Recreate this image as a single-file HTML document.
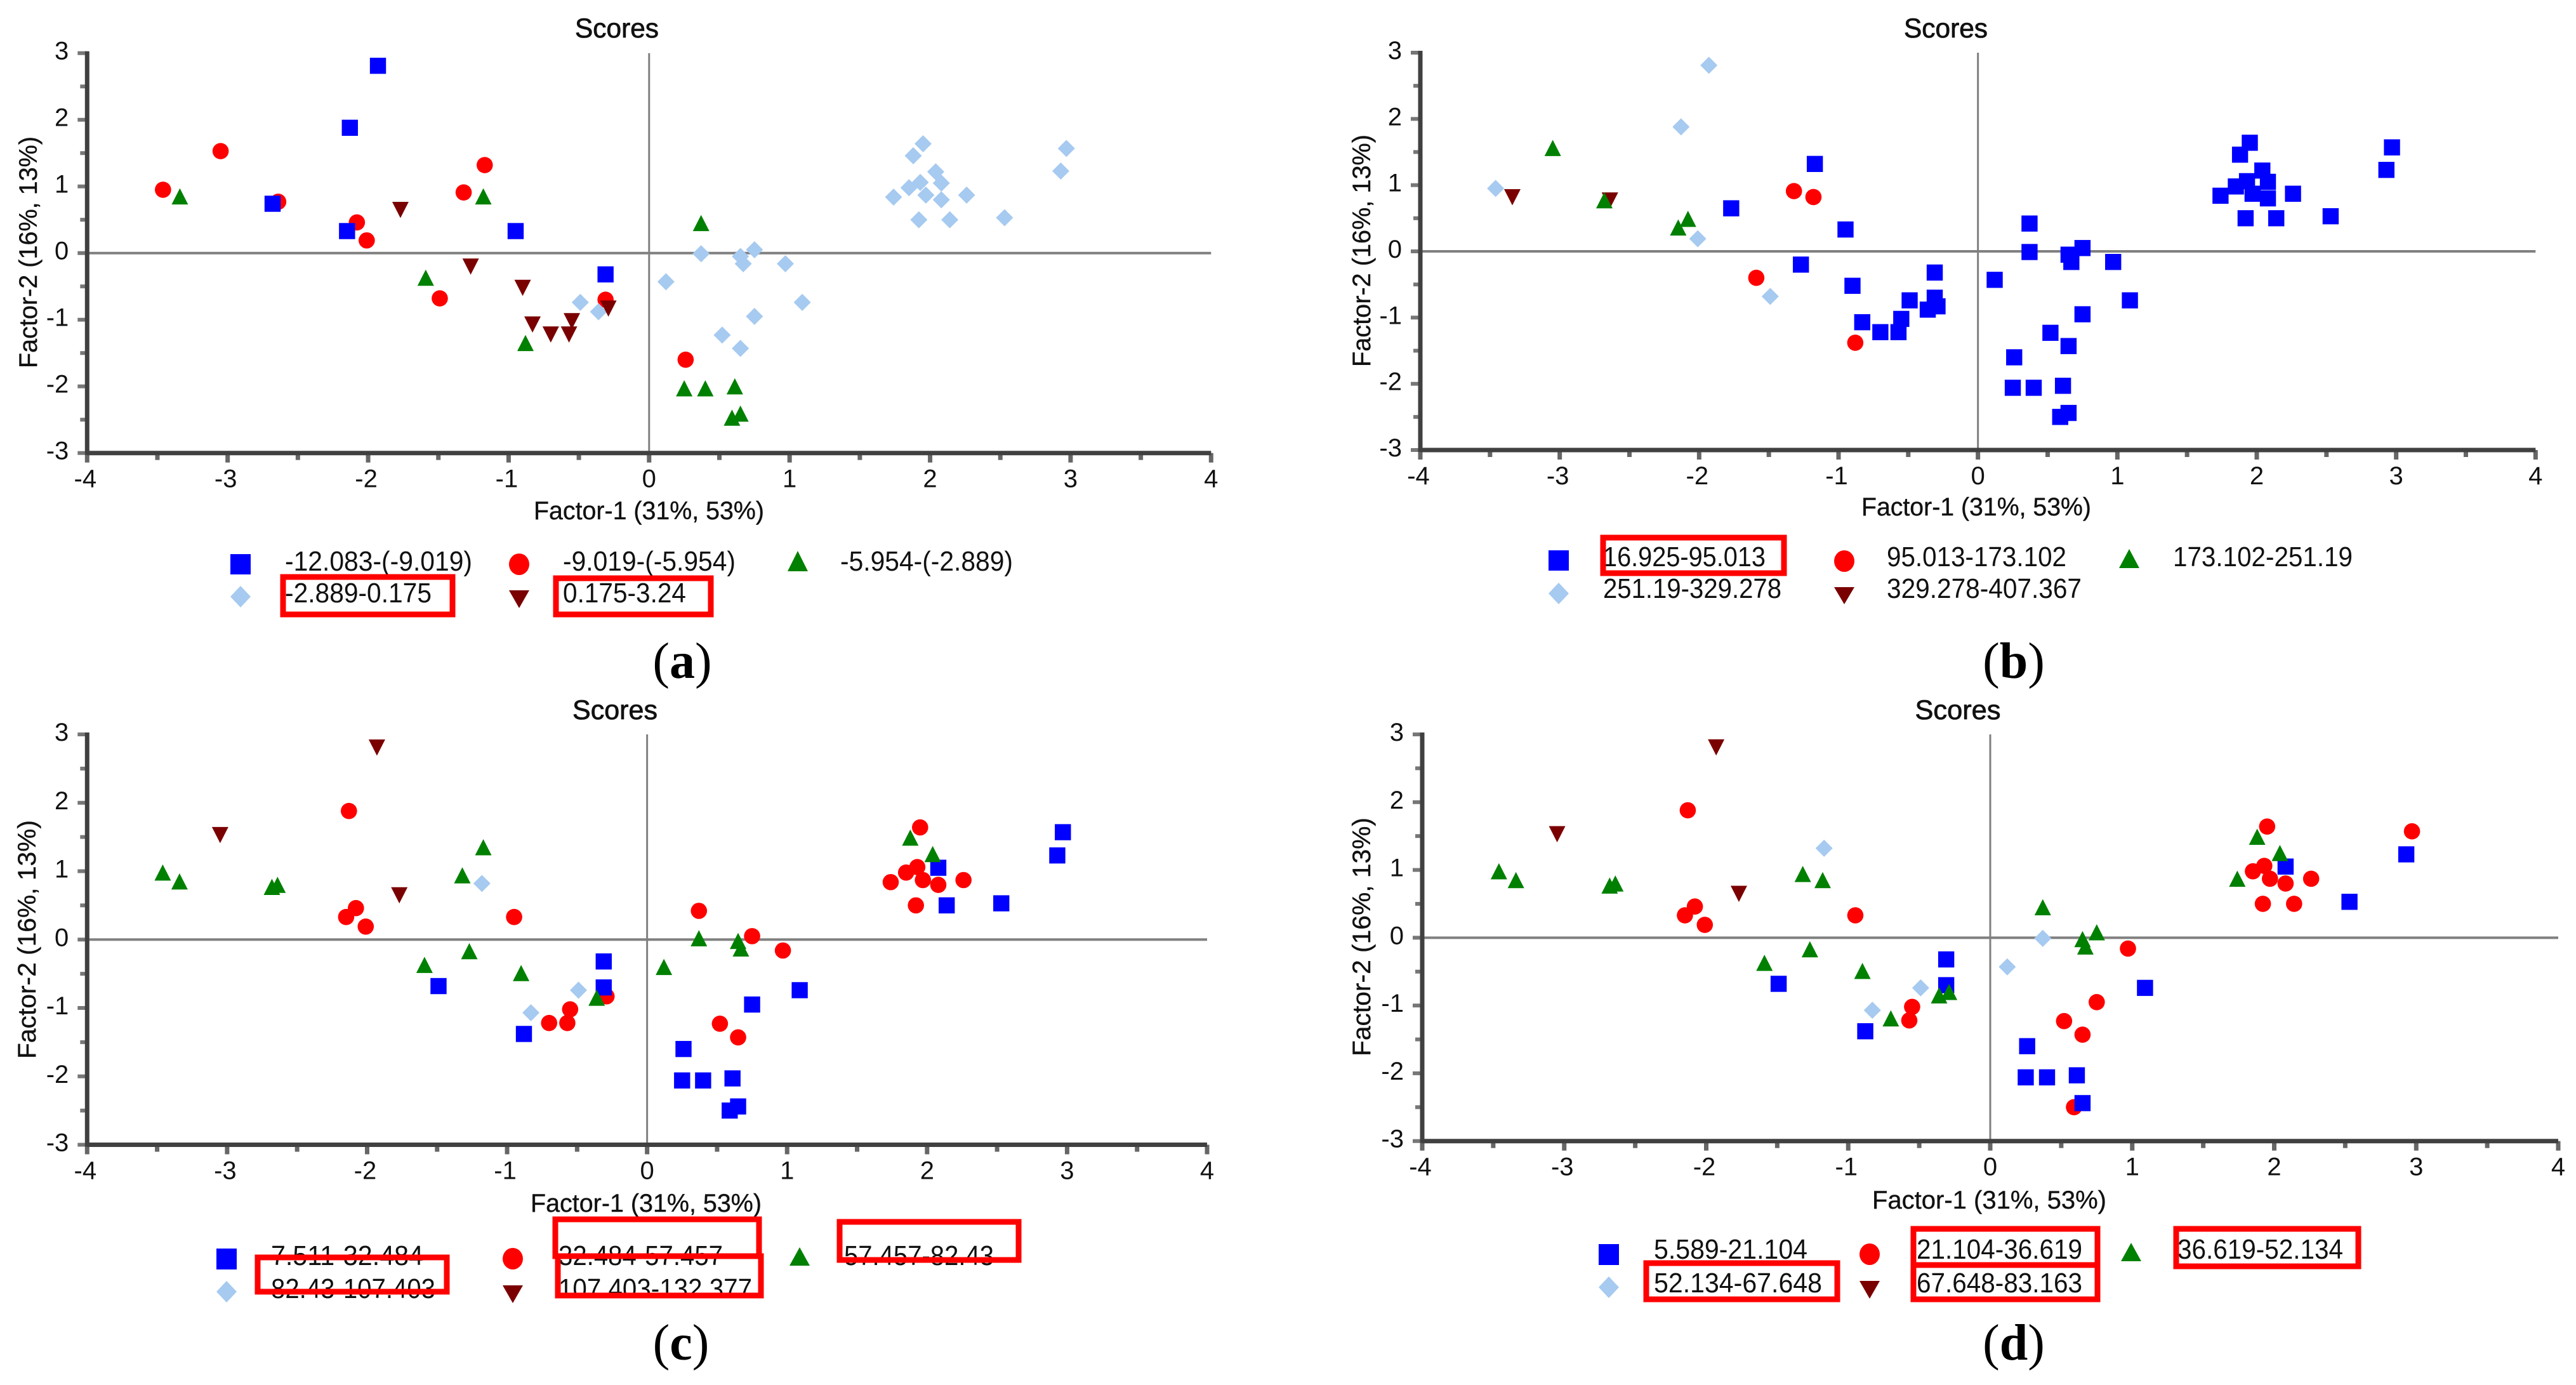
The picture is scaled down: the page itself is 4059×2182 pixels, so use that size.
<!DOCTYPE html>
<html lang="en">
<head>
<meta charset="utf-8">
<title>Scores scatter plots</title>
<style>
html,body{margin:0;padding:0;background:#fff;}
svg{display:block;}
text{font-family:"Liberation Sans",Arial,sans-serif;fill:#111;}
.title{font-size:43px;stroke:#111;stroke-width:.8px;}
.xt,.yt{font-size:40px;stroke:#111;stroke-width:.4px;}
.lg{font-size:44px;}
.tick{font-size:40px;}
.cap{font-family:"Liberation Serif","Times New Roman",serif;font-size:80px;fill:#000;}
.cap .b{font-weight:bold;}
.box{fill:none;stroke:#ff0000;stroke-width:9;}
</style>
</head>
<body>
<svg id="chart" xmlns="http://www.w3.org/2000/svg" width="4059" height="2182" viewBox="0 0 4059 2182">
  <rect x="0" y="0" width="4059" height="2182" fill="#ffffff"/>

  <!-- Panel a -->
  <g id="panel-a">
    <g id="plot-a"></g>
    <text class="title" x="972" y="59" text-anchor="middle" textLength="132" lengthAdjust="spacingAndGlyphs">Scores</text>
    <text class="xt" x="841" y="818" textLength="363" lengthAdjust="spacingAndGlyphs">Factor-1 (31%, 53%)</text>
    <text class="yt" transform="translate(58,580) rotate(-90)" textLength="365" lengthAdjust="spacingAndGlyphs">Factor-2 (16%, 13%)</text>
    <g>
      <rect x="363" y="873" width="32" height="32" fill="#0000ff"/>
      <text class="lg" x="449" y="899" textLength="295" lengthAdjust="spacingAndGlyphs">-12.083-(-9.019)</text>
      <ellipse cx="818" cy="889" rx="16" ry="17" fill="#ff0000"/>
      <text class="lg" x="887" y="899" textLength="272" lengthAdjust="spacingAndGlyphs">-9.019-(-5.954)</text>
      <polygon points="1257,868 1273,900 1241,900" fill="#008000"/>
      <text class="lg" x="1324" y="899" textLength="272" lengthAdjust="spacingAndGlyphs">-5.954-(-2.889)</text>
      <polygon points="379,923 395,940 379,957 363,940" fill="#a6caf0"/>
      <text class="lg" x="449" y="949" textLength="231" lengthAdjust="spacingAndGlyphs">-2.889-0.175</text>
      <polygon points="802,930 834,930 818,958" fill="#7a0000"/>
      <text class="lg" x="887" y="949" textLength="194" lengthAdjust="spacingAndGlyphs">0.175-3.24</text>
      <rect class="box" x="446" y="909" width="267" height="59"/>
      <rect class="box" x="876" y="911" width="244" height="57"/>
    </g>
    <text class="cap" x="1075" y="1068" text-anchor="middle">(<tspan class="b">a</tspan>)</text>
  </g>

  <!-- Panel b -->
  <g id="panel-b">
    <g id="plot-b"></g>
    <text class="title" x="3066" y="59" text-anchor="middle" textLength="132" lengthAdjust="spacingAndGlyphs">Scores</text>
    <text class="xt" x="2933" y="812" textLength="362" lengthAdjust="spacingAndGlyphs">Factor-1 (31%, 53%)</text>
    <text class="yt" transform="translate(2159,578) rotate(-90)" textLength="366" lengthAdjust="spacingAndGlyphs">Factor-2 (16%, 13%)</text>
    <g>
      <rect x="2440" y="867" width="32" height="32" fill="#0000ff"/>
      <text class="lg" x="2526" y="892" textLength="256" lengthAdjust="spacingAndGlyphs">16.925-95.013</text>
      <ellipse cx="2906" cy="884" rx="16" ry="17" fill="#ff0000"/>
      <text class="lg" x="2973" y="892" textLength="283" lengthAdjust="spacingAndGlyphs">95.013-173.102</text>
      <polygon points="3355,865 3371,895 3339,895" fill="#008000"/>
      <text class="lg" x="3424" y="892" textLength="283" lengthAdjust="spacingAndGlyphs">173.102-251.19</text>
      <polygon points="2456,918 2472,935 2456,952 2440,935" fill="#a6caf0"/>
      <text class="lg" x="2526" y="942" textLength="281" lengthAdjust="spacingAndGlyphs">251.19-329.278</text>
      <polygon points="2890,925 2922,925 2906,952" fill="#7a0000"/>
      <text class="lg" x="2973" y="942" textLength="307" lengthAdjust="spacingAndGlyphs">329.278-407.367</text>
      <rect class="box" x="2526" y="847" width="285" height="56"/>
    </g>
    <text class="cap" x="3173" y="1068" text-anchor="middle">(<tspan class="b">b</tspan>)</text>
  </g>

  <!-- Panel c -->
  <g id="panel-c">
    <g id="plot-c"></g>
    <text class="title" x="969" y="1133" text-anchor="middle" textLength="134" lengthAdjust="spacingAndGlyphs">Scores</text>
    <text class="xt" x="836" y="1909" textLength="364" lengthAdjust="spacingAndGlyphs">Factor-1 (31%, 53%)</text>
    <text class="yt" transform="translate(56,1668) rotate(-90)" textLength="376" lengthAdjust="spacingAndGlyphs">Factor-2 (16%, 13%)</text>
    <g>
      <rect x="341" y="1967" width="32" height="33" fill="#0000ff"/>
      <text class="lg" x="427" y="1993" textLength="240" lengthAdjust="spacingAndGlyphs">7.511-32.484</text>
      <ellipse cx="808" cy="1983" rx="16" ry="17" fill="#ff0000"/>
      <text class="lg" x="880" y="1993" textLength="259" lengthAdjust="spacingAndGlyphs">32.484-57.457</text>
      <polygon points="1260,1965 1276,1994 1244,1994" fill="#008000"/>
      <text class="lg" x="1330" y="1993" textLength="236" lengthAdjust="spacingAndGlyphs">57.457-82.43</text>
      <polygon points="357,2018 373,2035 357,2052 341,2035" fill="#a6caf0"/>
      <text class="lg" x="427" y="2045" textLength="259" lengthAdjust="spacingAndGlyphs">82.43-107.403</text>
      <polygon points="792,2025 824,2025 808,2053" fill="#7a0000"/>
      <text class="lg" x="880" y="2045" textLength="305" lengthAdjust="spacingAndGlyphs">107.403-132.377</text>
      <rect class="box" x="406" y="1981" width="298" height="54"/>
      <rect class="box" x="875" y="1921" width="321" height="58"/>
      <rect class="box" x="879" y="1979" width="320" height="62"/>
      <rect class="box" x="1323" y="1925" width="282" height="60"/>
    </g>
    <text class="cap" x="1073" y="2142" text-anchor="middle">(<tspan class="b">c</tspan>)</text>
  </g>

  <!-- Panel d -->
  <g id="panel-d">
    <g id="plot-d"></g>
    <text class="title" x="3085" y="1133" text-anchor="middle" textLength="135" lengthAdjust="spacingAndGlyphs">Scores</text>
    <text class="xt" x="2950" y="1904" textLength="369" lengthAdjust="spacingAndGlyphs">Factor-1 (31%, 53%)</text>
    <text class="yt" transform="translate(2159,1664) rotate(-90)" textLength="376" lengthAdjust="spacingAndGlyphs">Factor-2 (16%, 13%)</text>
    <g>
      <rect x="2519" y="1960" width="32" height="33" fill="#0000ff"/>
      <text class="lg" x="2606" y="1983" textLength="242" lengthAdjust="spacingAndGlyphs">5.589-21.104</text>
      <ellipse cx="2946" cy="1976" rx="16" ry="17" fill="#ff0000"/>
      <text class="lg" x="3020" y="1983" textLength="261" lengthAdjust="spacingAndGlyphs">21.104-36.619</text>
      <polygon points="3358,1958 3374,1987 3342,1987" fill="#008000"/>
      <text class="lg" x="3431" y="1983" textLength="261" lengthAdjust="spacingAndGlyphs">36.619-52.134</text>
      <polygon points="2535,2011 2551,2028 2535,2045 2519,2028" fill="#a6caf0"/>
      <text class="lg" x="2606" y="2036" textLength="265" lengthAdjust="spacingAndGlyphs">52.134-67.648</text>
      <polygon points="2930,2018 2962,2018 2946,2046" fill="#7a0000"/>
      <text class="lg" x="3020" y="2036" textLength="261" lengthAdjust="spacingAndGlyphs">67.648-83.163</text>
      <rect class="box" x="2594" y="1990" width="301" height="57"/>
      <rect class="box" x="3015" y="1936" width="290" height="57"/>
      <rect class="box" x="3015" y="1993" width="290" height="54"/>
      <rect class="box" x="3429" y="1936" width="287" height="59"/>
    </g>
    <text class="cap" x="3173" y="2142" text-anchor="middle">(<tspan class="b">d</tspan>)</text>
  </g>
</svg>

<script>
// Shared factor scores for the 61 samples (same in every panel)
const factor1 = [-1.93,-2.13,-2.68,-2.15,-0.95,-0.31,-3.46,-3.05,-2.64,-2.08,
  -2.01,-1.32,-1.17,-1.49,-0.31,0.26,-3.34,-1.18,-1.59,-0.88,
  0.37,0.25,0.40,0.61,0.65,0.59,1.95,1.88,2.97,2.93,
  2.04,1.93,2.08,1.85,1.74,1.97,2.08,2.26,1.92,2.14,
  2.53,0.37,0.65,0.67,0.75,0.97,0.12,1.09,0.75,0.52,
  0.65,-0.49,-0.36,-1.77,-1.27,-0.90,-0.83,-0.70,-0.57,-0.55,-0.29];
const factor2 = [2.81,1.88,0.74,0.33,0.33,-0.32,0.95,1.53,0.77,0.46,
  0.19,0.91,1.32,-0.68,-0.70,-1.60,0.82,0.82,-0.40,-1.38,
  0.42,-2.06,-2.06,-2.03,-2.44,-2.50,1.64,1.46,1.57,1.23,
  1.22,1.06,1.05,0.98,0.84,0.87,0.80,0.87,0.50,0.50,
  0.53,-0.01,-0.05,-0.16,0.05,-0.16,-0.43,-0.74,-0.95,-1.23,
  -1.43,-0.74,-0.88,0.65,-0.20,-0.52,-1.07,-1.22,-1.22,-1.02,-0.83];

// Class of every sample per panel: 0 square, 1 circle, 2 triangle, 3 diamond, 4 inverted triangle
const classesA = [0,0,0,0,0,0,1,1,1,1, 1,1,1,1,1,1,2,2,2,2, 2,2,2,2,2,2,3,3,3,3,
  3,3,3,3,3,3,3,3,3,3, 3,3,3,3,3,3,3,3,3,3, 3,3,3,4,4,4,4,4,4,4,4];
const classesB = [3,3,2,2,0,0,3,2,4,2, 3,1,0,3,0,0,4,1,1,1, 0,0,0,0,0,0,0,0,0,0,
  0,0,0,0,0,0,0,0,0,0, 0,0,0,0,0,0,0,0,0,0, 0,0,0,0,0,0,0,0,0,0,0];
const classesC = [4,1,2,1,1,0,2,4,2,1, 1,2,2,0,0,0,2,3,2,0, 1,0,0,0,0,0,1,2,0,0,
  2,1,0,1,1,1,1,1,1,0, 0,2,2,2,1,1,2,0,0,1, 1,3,2,4,2,2,3,1,1,1,1];
const classesD = [4,1,2,1,1,0,2,4,2,1, 1,2,3,0,0,0,2,2,2,0, 2,0,0,0,0,1,1,2,1,0,
  2,1,0,1,2,1,1,1,1,1, 0,3,2,2,2,1,3,0,1,1, 1,3,2,4,2,2,3,2,1,1,2];

// Axis ticks
const xMajorTicks = [-4,-3,-2,-1,0,1,2,3,4];
const yMajorTicks = [-3,-2,-1,0,1,2,3];
const xMinorTicks = [-3.5,-2.5,-1.5,-0.5,0.5,1.5,2.5,3.5];
const yMinorTicks = [-2.5,-1.5,-0.5,0.5,1.5,2.5];

const SVGNS = 'http://www.w3.org/2000/svg';

function mk(tag, attrs, parent) {
  const el = document.createElementNS(SVGNS, tag);
  for (const k in attrs) el.setAttribute(k, attrs[k]);
  parent.appendChild(el);
  return el;
}

function drawMark(group, cx, cy, parent) {
  let el;
  if (group === 0) {
    el = mk('rect', {x: cx - 12.7, y: cy - 12.7, width: 25.4, height: 25.4, fill: '#0000ff'}, parent);
    
  } else if (group === 1) {
    el = mk('circle', {cx: cx, cy: cy, r: 12.8, fill: '#ff0000'}, parent);
    
  } else if (group === 2) {
    el = mk('polygon', {points: (cx) + ',' + (cy - 16) + ' ' + (cx + 13) + ',' + (cy + 9.5) + ' ' + (cx - 13) + ',' + (cy + 9.5), fill: '#008000'}, parent);
    
  } else if (group === 3) {
    el = mk('polygon', {points: (cx) + ',' + (cy - 13.5) + ' ' + (cx + 13.5) + ',' + (cy) + ' ' + (cx) + ',' + (cy + 13.5) + ' ' + (cx - 13.5) + ',' + (cy), fill: '#a6caf0'}, parent);
    
  } else {
    el = mk('polygon', {points: (cx - 13) + ',' + (cy - 12.5) + ' ' + (cx + 13) + ',' + (cy - 12.5) + ' ' + (cx) + ',' + (cy + 13), fill: '#7a0000'}, parent);
    
  }
  
}

function drawPanel(id, classes, left, right, top, bottom) {
  const g = document.getElementById(id);
  const xScale = function (v) { return left + (v + 4) * (right - left) / 8; };
  const yScale = function (v) { return bottom - (v + 3) * (bottom - top) / 6; };

  const zeroH = mk('line', {x1: xScale(-4), x2: xScale(4), y1: yScale(0), y2: yScale(0), stroke: '#808080', 'stroke-width': 4}, g);
  
  
  const zeroV = mk('line', {x1: xScale(0), x2: xScale(0), y1: yScale(3), y2: yScale(-3), stroke: '#808080', 'stroke-width': 3}, g);
  
  

  xMajorTicks.forEach(function (v) {
    const t = mk('line', {x1: xScale(v), x2: xScale(v), y1: yScale(-3), y2: yScale(-3) + 15, stroke: '#666666', 'stroke-width': 7}, g);
    
    
  });
  xMinorTicks.forEach(function (v) {
    const t = mk('line', {x1: xScale(v), x2: xScale(v), y1: yScale(-3), y2: yScale(-3) + 11, stroke: '#666666', 'stroke-width': 7}, g);
    
    
  });
  yMajorTicks.forEach(function (v) {
    const t = mk('line', {x1: xScale(-4) - 15, x2: xScale(-4), y1: yScale(v), y2: yScale(v), stroke: '#777777', 'stroke-width': 6}, g);
    
    
  });
  yMinorTicks.forEach(function (v) {
    const t = mk('line', {x1: xScale(-4) - 11, x2: xScale(-4), y1: yScale(v), y2: yScale(v), stroke: '#777777', 'stroke-width': 6}, g);
    
    
  });

  const axisY = mk('line', {x1: xScale(-4), x2: xScale(-4), y1: yScale(3) - 3, y2: yScale(-3) + 3, stroke: '#404040', 'stroke-width': 7}, g);
  
  
  const axisX = mk('line', {x1: xScale(-4), x2: xScale(4), y1: yScale(-3), y2: yScale(-3), stroke: '#404040', 'stroke-width': 7}, g);
  
  

  xMajorTicks.forEach(function (v) {
    const t = mk('text', {class: 'tick', x: xScale(v) - (v < 0 ? 3 : 0), y: yScale(-3) + 54, 'text-anchor': 'middle'}, g);
    t.textContent = String(v);
    
    
  });
  yMajorTicks.forEach(function (v) {
    const t = mk('text', {class: 'tick', x: xScale(-4) - 29, y: yScale(v) + 10, 'text-anchor': 'end'}, g);
    t.textContent = String(v);
    
    
  });

  const order = [1, 0, 3, 4, 2];
  order.forEach(function (grp) {
    factor1.forEach(function (fx, i) {
      if (classes[i] === grp) drawMark(grp, xScale(fx), yScale(factor2[i]), g);
    });
  });
}

drawPanel('plot-a', classesA, 137.3, 1908.3, 83.7, 713.7);
drawPanel('plot-b', classesB, 2238, 3995.3, 83, 709);
drawPanel('plot-c', classesC, 137.3, 1902, 1157, 1803.5);
drawPanel('plot-d', classesD, 2241, 4031, 1157, 1797.7);
</script>
</body>
</html>
